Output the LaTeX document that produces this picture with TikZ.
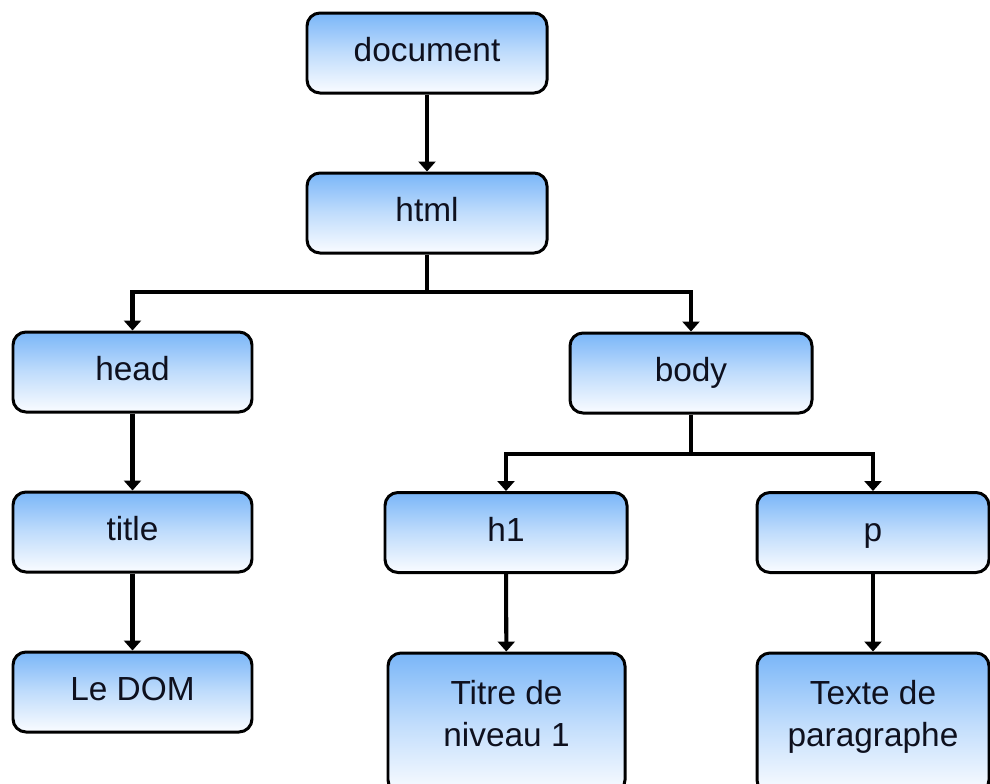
\documentclass[tikz,border=0pt]{standalone}
\usepackage{fontspec}
\setmainfont{Liberation Sans}
\usetikzlibrary{arrows.meta}
\definecolor{boxtop}{RGB}{122,182,248}
\definecolor{boxbot}{RGB}{250,252,255}
\definecolor{boxtext}{RGB}{14,16,30}
\begin{document}
\begin{tikzpicture}[%
  elem/.style={draw=black, line width=1.7pt, rounded corners=0.26cm,
    minimum width=4.8cm, minimum height=1.6cm, inner sep=0pt,
    top color=boxtop, bottom color=boxbot, middle color=boxtop!45!boxbot,
    text=boxtext, align=center, font=\fontsize{19}{23.5}\selectfont,
    text height=14pt, text depth=4pt},
  link/.style={line width=2.3pt, -{Triangle[width=0.34cm,length=0.2cm]}},
  wire/.style={line width=2.3pt}]%
% page 19.8 x 15.66 cm
\useasboundingbox (0,0) rectangle (19.8,-15.66);
\node[elem] (doc) at (8.54,-1.06) {document};
\node[elem] (html) at (8.54,-4.26) {html};
\node[elem,minimum width=4.78cm] (head) at (2.65,-7.44) {head};
\node[elem,minimum width=4.84cm] (body) at (13.82,-7.46) {body};
\node[elem,minimum width=4.78cm] (title) at (2.65,-10.64) {title};
\node[elem,minimum width=4.84cm] (h1) at (10.12,-10.65) {h1};
\node[elem,minimum width=4.64cm] (p) at (17.46,-10.65) {p};
\node[elem,minimum width=4.78cm] (dom) at (2.65,-13.84) {Le DOM};
\node[elem,minimum width=4.74cm,minimum height=2.8cm,
  text height=,text depth=0.38cm]
  (titre) at (10.13,-14.46) {Titre de\\niveau 1};
\node[elem,minimum width=4.64cm,minimum height=2.8cm,
  text height=,text depth=0.38cm]
  (texte) at (17.46,-14.46) {Texte de\\paragraphe};
% bus heights under html and body
\coordinate (hbus) at (0,-5.84);
\coordinate (bbus) at (0,-9.08);
\draw[link] (doc) -- (html);
\draw[wire] (html.south) -- (html.south |- hbus);
\draw[link] (html.south |- hbus) -| (head.north);
\draw[link] (html.south |- hbus) -| (body.north);
\draw[link] (head) -- (title);
\draw[link] (title) -- (dom);
\draw[wire] (body.south) -- (body.south |- bbus);
\draw[link] (body.south |- bbus) -| (h1.north);
\draw[link] (body.south |- bbus) -| (p.north);
\draw[link] (h1) -- (titre);
\draw[link] (p) -- (texte);
\end{tikzpicture}
\end{document}
